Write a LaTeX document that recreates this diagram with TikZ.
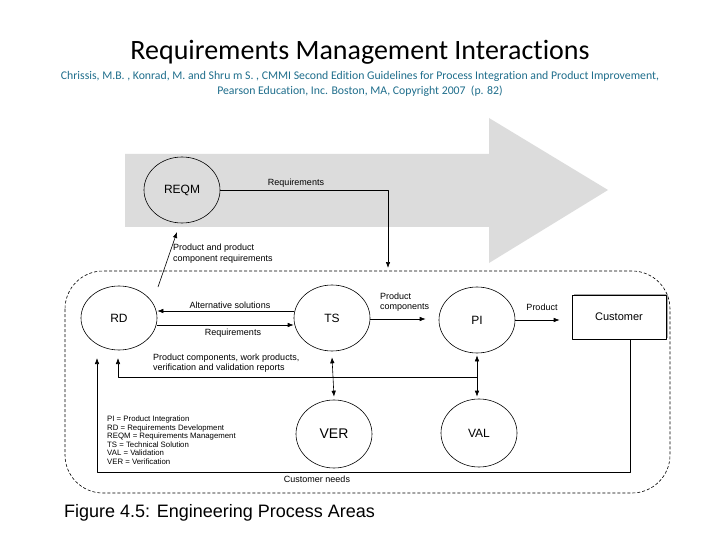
\documentclass[tikz,border=0pt]{standalone}
\usepackage{fontspec}
\setmainfont{Carlito}[Ligatures=NoCommon]
\newfontfamily\arialfont{Liberation Sans}
\usetikzlibrary{shapes.geometric,arrows.meta,shadows}

\begin{document}
\begin{tikzpicture}[x=1pt, y=-1pt, line join=round, >={Latex[length=6pt,width=4.5pt]}]
  \definecolor{band}{HTML}{DCDCDC}
  \definecolor{cite}{HTML}{1F6E8C}
  \path[use as bounding box] (0,0) rectangle (720,540);
  \fill[white] (0,0) rectangle (720,540);
  \tikzset{
    area/.style={ellipse, draw, line width=0.6pt, inner sep=0pt, minimum width=76pt, minimum height=66pt,
      font=\arialfont\fontsize{12}{12}\selectfont},
    lbl/.style={font=\arialfont\fontsize{9}{10.5}\selectfont, inner sep=0pt, align=left},
    flow/.style={line width=0.6pt}
  }
  \node[font=\fontsize{28}{32}\selectfont] (title) at (360,52) {Requirements Management Interactions};
  \node[font=\fontsize{11.75}{15}\selectfont, text=cite, align=center] (source) at (360,84)
    {Chrissis, M.B. , Konrad, M. and Shru m S. , CMMI Second Edition Guidelines for Process Integration and Product Improvement,\\
     Pearson Education, Inc. Boston, MA, Copyright 2007 \ (p. 82)};
  % Big grey arrow behind the requirements management area.
  \fill[band] (125,154) -- (489,154) -- (489,118) -- (608,190) -- (489,263) -- (489,227) -- (125,227) -- cycle;
  % Engineering boundary.
  \draw[flow, dash pattern=on 3pt off 2pt, rounded corners=38pt] (65,271) rectangle (670,493);
  % Process areas.
  \node[area] (reqm) at (182,190) {REQM};
  \node[area, minimum height=64pt] (rd) at (119,318) {RD};
  \node[area] (ts) at (332,318) {TS};
  \node[area] (pi) at (477,320) {PI};
  \node[area, minimum height=68pt, font=\arialfont\fontsize{14}{14}\selectfont] (ver) at (334,434) {VER};
  \node[area, minimum height=68pt] (val) at (479,433) {VAL};
  \node[draw, line width=0.6pt, fill=white, minimum width=94pt, minimum height=44pt,
    drop shadow={shadow xshift=1.5pt, shadow yshift=1.5pt, fill=black!35, opacity=1},
    font=\arialfont\fontsize{11}{11}\selectfont] (cust) at (619,317) {Customer};
  % Turning points and free ends of the connectors.
  \coordinate (reqdrop) at (388,190);
  \coordinate (tsin) at (388,268);
  \coordinate (rdtop) at (158,287);
  \coordinate (reqmin) at (177,232);
  \coordinate (fb) at (477,377);
  \coordinate (rdfb) at (118,358);
  \coordinate (cn1) at (630,472);
  \coordinate (cn2) at (97,472);
  \coordinate (rdin) at (97,358);
  % Connectors.
  \draw[flow, ->] (reqm.east) -- (reqdrop) -- (tsin);
  \draw[flow, ->] (rdtop) -- (reqmin);
  \draw[flow, ->] ([yshift=7pt]ts.west) -- ([yshift=7pt]rd.east);
  \draw[flow, ->] ([yshift=-7pt]rd.east) -- ([yshift=-7pt]ts.west);
  \draw[flow, ->] ([yshift=-1pt]ts.east) -- ([shift={(-13pt,1pt)}]pi.west);
  \draw[flow, ->] (pi.east) -- ([xshift=-12pt]cust.west |- pi.east);
  \draw[flow, ->] (fb) -- (fb -| rdfb) -- (rdfb);
  \draw[flow, ->] (fb) -- ([yshift=-2pt]pi.south);
  \draw[flow, ->] (fb) -- ([yshift=2pt]fb |- val.north);
  \draw[flow, <->] ([yshift=-6pt]ts.south) -- ([yshift=3pt]ver.north);
  \draw[flow, ->] (cust.south -| cn1) -- (cn1) -- (cn2) -- (rdin);
  % Connector labels.
  \node[lbl] (lreq) at (296,183) {Requirements};
  \node[lbl, anchor=west] (lprod) at (173,253.5) {Product and product\\component requirements};
  \node[lbl] (lalt) at (230,305) {Alternative solutions};
  \node[lbl] (lreq2) at (233,333) {Requirements};
  \node[lbl, anchor=west] (lcomp) at (380,302) {Product\\components};
  \node[lbl] (lprd) at (542,307) {Product};
  \node[lbl, anchor=west] (lfb) at (153,363) {Product components, work products,\\verification and validation reports};
  \node[lbl] (lneeds) at (317,479) {Customer needs};
  % Key to the abbreviations.
  \node[anchor=north west, inner sep=0pt, align=left, font=\arialfont\fontsize{7.8}{8.5}\selectfont] (key) at (107,416)
    {PI = Product Integration\\RD = Requirements Development\\REQM = Requirements Management\\TS = Technical Solution\\VAL = Validation\\VER = Verification};
  \node[anchor=west, inner sep=0pt, font=\arialfont\fontsize{18}{18}\selectfont] (caption) at (64,513)
    {Figure 4.5: Engineering Process Areas};
\end{tikzpicture}
\end{document}
